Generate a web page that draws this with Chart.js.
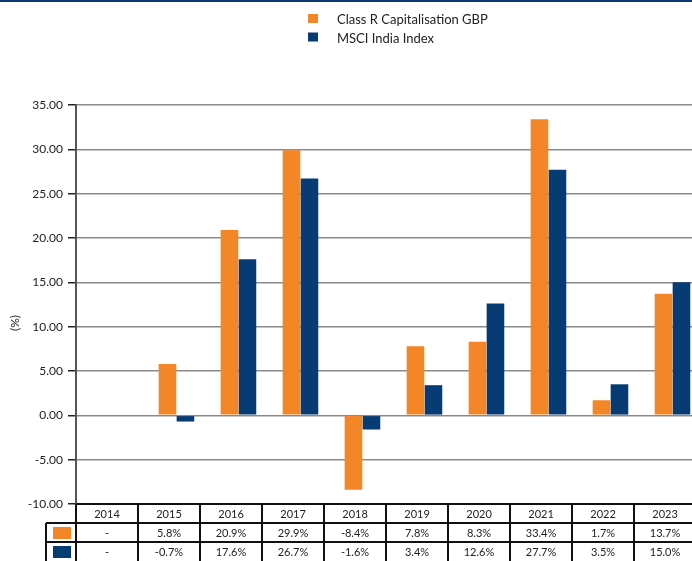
<!DOCTYPE html>
<html>
<head>
<meta charset="utf-8">
<script src="https://cdn.jsdelivr.net/npm/chart.js@4/dist/chart.umd.min.js"></script>
<style>
  html, body { margin: 0; padding: 0; background: #fff; }
  #wrap { width: 692px; height: 561px; position: relative; }
</style>
</head>
<body>
<div id="wrap"><canvas id="chart"></canvas></div>
<script>
var years = ["2014", "2015", "2016", "2017", "2018", "2019", "2020", "2021", "2022", "2023"];
var classR = [null, 5.8, 20.9, 29.9, -8.4, 7.8, 8.3, 33.4, 1.7, 13.7];
var msciIndia = [null, -0.7, 17.6, 26.7, -1.6, 3.4, 12.6, 27.7, 3.5, 15.0];
var seriesNames = ["Class R Capitalisation GBP", "MSCI India Index"];
var yTitle = "(%)";

var ORANGE = "#f38727";
var BLUE = "#063b74";
var FONT = "Lato, 'Open Sans', sans-serif";

function fmtPct(v) {
    return v === null ? "-" : v.toFixed(1) + "%";
}

function toPoints(arr) {
    return arr.map((v, i) => ({x: i, y: v}));
}

// draws the top rule, legend, axis title and the data table under the plot
var extras = {
    id: "extras",
    afterDraw: function(chart) {
        var ctx = chart.ctx;
        var area = chart.chartArea;
        var x = chart.scales.x;
        ctx.save();

        // top rule
        ctx.fillStyle = "#0b3a6c";
        ctx.fillRect(0, 0, chart.width, 2);

        // legend
        ctx.font = "13px " + FONT;
        ctx.textBaseline = "middle";
        ctx.textAlign = "left";
        chart.data.datasets.forEach(function(ds, i) {
            var cy = 19 + i * 18.5;
            ctx.fillStyle = ds.backgroundColor;
            ctx.fillRect(308, cy - 5, 10, 9);
            ctx.fillStyle = "#222";
            ctx.fillText(ds.label, 337, cy + 1);
        });

        // y axis title
        ctx.save();
        ctx.translate(15, 323);
        ctx.rotate(-Math.PI / 2);
        ctx.textAlign = "center";
        ctx.font = "12px " + FONT;
        ctx.fillStyle = "#222";
        ctx.fillText(yTitle, 0, 0);
        ctx.restore();

        // table: columns as wide as one category step, starting at the y axis
        var colW = x.getPixelForValue(1) - x.getPixelForValue(0);
        var rowH = 19;
        var top = area.bottom;
        var keyLeft = 46;
        ctx.strokeStyle = "#111";
        ctx.lineWidth = 2;
        ctx.font = "11px " + FONT;
        ctx.textAlign = "center";
        ctx.fillStyle = "#222";

        ctx.beginPath();
        ctx.moveTo(area.left, top);
        ctx.lineTo(area.right, top);
        ctx.moveTo(keyLeft, top + rowH);
        ctx.lineTo(area.right, top + rowH);
        ctx.moveTo(keyLeft, top + rowH * 2);
        ctx.lineTo(area.right, top + rowH * 2);
        ctx.moveTo(keyLeft, top + rowH);
        ctx.lineTo(keyLeft, top + rowH * 3);
        ctx.stroke();

        var rows = [classR, msciIndia];
        years.forEach(function(yr, i) {
            var l = area.left + i * colW;
            var cx = l + colW / 2;
            ctx.beginPath();
            ctx.moveTo(l, top);
            ctx.lineTo(l, top + rowH * 3);
            ctx.stroke();
            ctx.fillText(yr, cx, top + rowH / 2 + 1);
            rows.forEach(function(r, j) {
                ctx.fillText(fmtPct(r[i]), cx, top + rowH * (j + 1.5) + 1);
            });
        });

        chart.data.datasets.forEach(function(ds, j) {
            ctx.fillStyle = ds.backgroundColor;
            ctx.fillRect(53, top + rowH * (j + 1) + 4, 18, 12);
        });

        ctx.restore();
    }
};

new Chart(document.getElementById("chart"), {
    type: "bar",
    data: {
        datasets: [
            { label: seriesNames[0], data: toPoints(classR), backgroundColor: ORANGE },
            { label: seriesNames[1], data: toPoints(msciIndia), backgroundColor: BLUE },
        ]
    },
    options: {
        responsive: true,
        maintainAspectRatio: false,
        animation: false,
        layout: { padding: { top: 105, bottom: 57, left: 0, right: 0 } },
        datasets: {
            bar: { categoryPercentage: 0.58, barPercentage: 0.98 }
        },
        scales: {
            x: {
                type: "linear",
                display: false,
                offset: false,
                min: -0.62,
                max: 9.315,
            },
            y: {
                min: -10,
                max: 35,
                afterFit: function(scale) { scale.width = 76; },
                ticks: {
                    stepSize: 5,
                    color: "#222",
                    font: { family: FONT, size: 12 },
                    padding: 5,
                    callback: (v) => v.toFixed(2),
                },
                grid: {
                    color: "#8a8a8a",
                    lineWidth: 1.5,
                    tickColor: "#222",
                    tickLength: 8,
                },
                border: { color: "#555", width: 2 },
            }
        },
        plugins: {
            legend: { display: false },
            tooltip: { enabled: false },
        }
    },
    plugins: [extras]
});
</script>
</body>
</html>
